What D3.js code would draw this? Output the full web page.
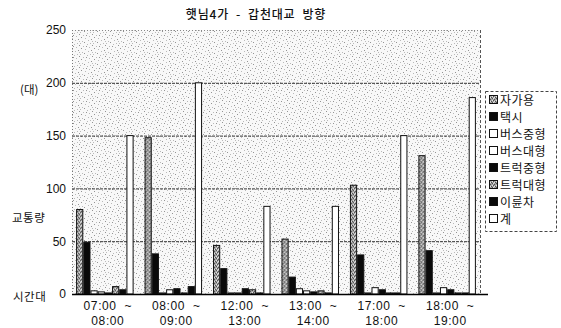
<!DOCTYPE html>
<html>
<head>
<meta charset="utf-8">
<script src="https://cdn.jsdelivr.net/npm/d3@7"></script>
<style>
  html, body { margin: 0; padding: 0; background: #fff; }
  svg { display: block; }
  .num { font-family: "Liberation Sans", Arial, sans-serif; font-size: 12px; fill: #111; }
  .kr { font-family: "Noto Sans CJK KR", sans-serif; fill: #111; }
</style>
</head>
<body>
<svg id="chart" width="561" height="328"></svg>
<script>
// Time periods (start ~ end) on the x axis
const periods = ["07:00~08:00", "08:00~09:00", "12:00~13:00", "13:00~14:00", "17:00~18:00", "18:00~19:00"];
// Vehicle classes, in legend order
const vehicleTypes = ["자가용", "택시", "버스중형", "버스대형", "트럭중형", "트럭대형", "이륜차", "계"];
// Counts per vehicle class, one value per period (대)
const carCounts       = [80, 148, 46, 52, 103, 131];
const taxiCounts      = [49, 38, 24, 16, 37, 41];
const busMidCounts    = [3, 1, 1, 5, 1, 1];
const busLargeCounts  = [2, 4, 1, 3, 6, 6];
const truckMidCounts  = [1, 5, 5, 2, 4, 4];
const truckLargeCounts = [7, 1, 4, 3, 1, 1];
const motorbikeCounts = [4, 7, 1, 1, 1, 1];
const totalCounts     = [150, 200, 83, 83, 150, 186];
const yTicks = [0, 50, 100, 150, 200, 250];

const seriesValues = [carCounts, taxiCounts, busMidCounts, busLargeCounts,
                      truckMidCounts, truckLargeCounts, motorbikeCounts, totalCounts];
const fills = ["url(#grayDots)", "#0a0a0a", "#fff", "#fff", "#0a0a0a", "url(#grayDots)", "#0a0a0a", "#fff"];

const svg = d3.select("#chart");
const plot = { left: 72, right: 480, top: 30, bottom: 294 };

// Textures: stippled plot background and speckled gray bars
const defs = svg.append("defs");
const bg = defs.append("pattern").attr("id", "stipple").attr("patternUnits", "userSpaceOnUse")
  .attr("width", 13).attr("height", 11);
bg.append("rect").attr("width", 13).attr("height", 11).attr("fill", "#f8f8f8");
[[1, 1], [5, 2], [9, 0], [3, 4], [11, 3], [7, 5], [0, 6], [4, 8], [10, 7], [6, 9], [12, 10], [2, 10], [8, 2], [1, 8]]
  .forEach(([x, y], i) =>
    bg.append("rect").attr("x", x).attr("y", y).attr("width", 1).attr("height", 1)
      .attr("fill", i % 3 === 0 ? "#949494" : "#bababa"));

const gd = defs.append("pattern").attr("id", "grayDots").attr("patternUnits", "userSpaceOnUse")
  .attr("width", 4).attr("height", 4);
gd.append("rect").attr("width", 4).attr("height", 4).attr("fill", "#a4a4a4");
[[0, 0], [2, 1], [1, 3], [3, 2]].forEach(([x, y]) =>
  gd.append("rect").attr("x", x).attr("y", y).attr("width", 1).attr("height", 1).attr("fill", "#505050"));
[[1, 1], [3, 0], [0, 2]].forEach(([x, y]) =>
  gd.append("rect").attr("x", x).attr("y", y).attr("width", 1).attr("height", 1).attr("fill", "#e4e4e4"));

// Scales
const x0 = d3.scaleBand().domain(periods).range([plot.left, plot.right])
  .paddingInner(0.16).paddingOuter(0.06);
const x1 = d3.scaleBand().domain(vehicleTypes).range([0, x0.bandwidth()]).padding(0);
const y = d3.scaleLinear().domain([0, 250]).range([plot.bottom, plot.top]);

// Plot background
svg.append("rect").attr("x", plot.left).attr("y", plot.top)
  .attr("width", plot.right - plot.left).attr("height", plot.bottom - plot.top)
  .attr("fill", "url(#stipple)");

// Horizontal grid lines
svg.append("g").selectAll("line").data(yTicks.filter(t => t > 0 && t < 250)).join("line")
  .attr("x1", plot.left).attr("x2", plot.right)
  .attr("y1", d => y(d) + 0.5).attr("y2", d => y(d) + 0.5)
  .attr("stroke", "#333").attr("stroke-width", 1).attr("stroke-dasharray", "3,1");

// Plot frame: dotted top/left, dashed right
svg.append("line").attr("x1", plot.left).attr("x2", plot.right).attr("y1", plot.top + 0.5).attr("y2", plot.top + 0.5)
  .attr("stroke", "#888").attr("stroke-dasharray", "1,2");
svg.append("line").attr("x1", plot.left + 0.5).attr("x2", plot.left + 0.5).attr("y1", plot.top).attr("y2", plot.bottom)
  .attr("stroke", "#777").attr("stroke-dasharray", "1,2");
svg.append("line").attr("x1", plot.right + 0.5).attr("x2", plot.right + 0.5).attr("y1", plot.top).attr("y2", plot.bottom)
  .attr("stroke", "#555").attr("stroke-dasharray", "3,2");

// Bars
const groups = svg.append("g").selectAll("g").data(periods).join("g")
  .attr("transform", d => `translate(${x0(d)},0)`);
groups.selectAll("rect")
  .data((p, i) => vehicleTypes.map((t, k) => ({ type: t, k, value: seriesValues[k][i] })))
  .join("rect")
  .attr("x", d => x1(d.type) + 0.5)
  .attr("y", d => y(d.value))
  .attr("width", x1.bandwidth() - 1)
  .attr("height", d => y(0) - y(d.value))
  .attr("fill", d => fills[d.k])
  .attr("stroke", "#111").attr("stroke-width", 1);

// X axis baseline
svg.append("line").attr("x1", plot.left).attr("x2", plot.right + 8)
  .attr("y1", plot.bottom + 0.5).attr("y2", plot.bottom + 0.5)
  .attr("stroke", "#000").attr("stroke-width", 1.5);

// Y axis labels
const yAxis = d3.axisLeft(y).tickValues(yTicks).tickSize(0).tickPadding(5);
const yg = svg.append("g").attr("transform", `translate(${plot.left - 1},0)`).call(yAxis);
yg.select(".domain").remove();
yg.selectAll("text").attr("class", "num").attr("font-family", null).attr("font-size", null)
  .attr("fill", null);

// X axis labels (two lines per period)
const xl = svg.append("g").selectAll("text").data(periods).join("text")
  .attr("class", "num").attr("text-anchor", "middle")
  .attr("x", d => x0(d) + x0.bandwidth() / 2 + 3)
  .style("letter-spacing", "0.6px").style("white-space", "pre");
xl.append("tspan").attr("x", d => x0(d) + x0.bandwidth() / 2 + 3).attr("y", 310)
  .text(d => d.split("~")[0] + "  ~");
xl.append("tspan").attr("x", d => x0(d) + x0.bandwidth() / 2 + 3).attr("y", 325)
  .text(d => d.split("~")[1]);

// Title and axis captions
svg.append("text").attr("class", "kr").attr("x", 256).attr("y", 19).attr("text-anchor", "middle")
  .attr("font-size", 12).style("font-weight", 500).style("letter-spacing", "0.8px")
  .style("white-space", "pre").text("햇님4가  -  갑천대교  방향");
svg.append("text").attr("class", "kr").attr("x", 20).attr("y", 94).attr("font-size", 11.5).text("(대)");
svg.append("text").attr("class", "kr").attr("x", 12).attr("y", 222).attr("font-size", 11.5)
  .style("letter-spacing", "0.5px").text("교통량");
svg.append("text").attr("class", "kr").attr("x", 13).attr("y", 301).attr("font-size", 11.5)
  .style("letter-spacing", "0.5px").text("시간대");

// Legend
const lg = svg.append("g");
lg.append("rect").attr("x", 485.5).attr("y", 91.5).attr("width", 71).attr("height", 140)
  .attr("fill", "#fff").attr("stroke", "#444").attr("stroke-dasharray", "3,2");
const items = lg.selectAll("g").data(vehicleTypes).join("g")
  .attr("transform", (d, i) => `translate(489,${100 + i * 17})`);
items.append("rect").attr("x", 0.5).attr("y", -4.5).attr("width", 8).attr("height", 8)
  .attr("fill", (d, i) => fills[i]).attr("stroke", "#111");
items.append("text").attr("class", "kr").attr("x", 11).attr("y", 4.5).attr("font-size", 12)
  .style("letter-spacing", "0.5px").text(d => d);
</script>
</body>
</html>
